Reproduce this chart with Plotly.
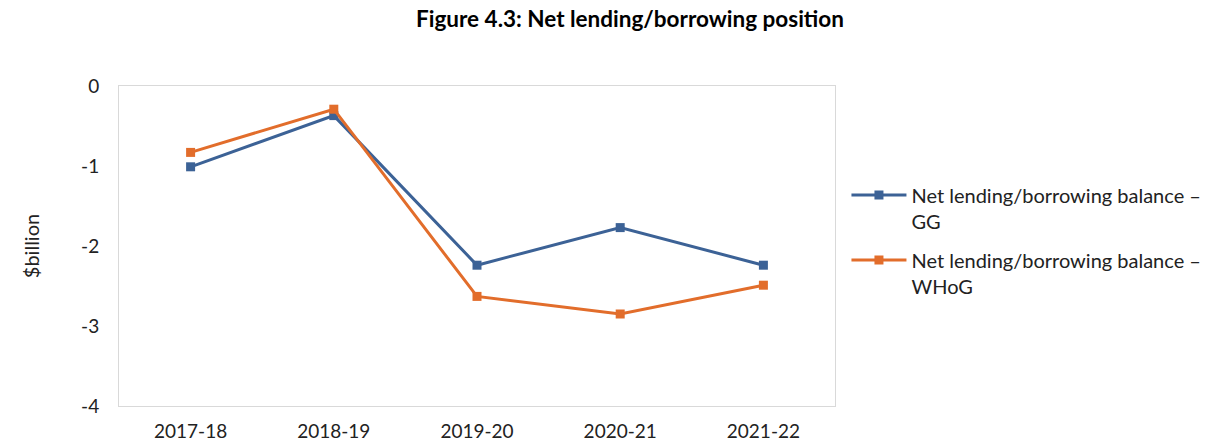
import plotly.graph_objects as go

# Fiscal years and net lending/borrowing balances ($billion)
years = ["2017-18", "2018-19", "2019-20", "2020-21", "2021-22"]
gg_balance = [-1.01, -0.37, -2.24, -1.77, -2.24]
whog_balance = [-0.83, -0.29, -2.63, -2.85, -2.49]

# Value-axis ticks, written with a plain hyphen
y_tick_values = [0, -1, -2, -3, -4]
y_tick_labels = ["0", "-1", "-2", "-3", "-4"]

series_names = [
    "Net lending/borrowing balance –<br>GG",
    "Net lending/borrowing balance –<br>WHoG",
]
series_colors = ["#3C6296", "#E26D2B"]

fig = go.Figure()
for i, (name, vals, color) in enumerate(zip(series_names, [gg_balance, whog_balance], series_colors)):
    fig.add_trace(go.Scatter(
        x=years, y=vals, name=name, mode="lines+markers",
        legendgroup=f"g{i}",
        line=dict(color=color, width=3),
        marker=dict(symbol="square", size=9, color=color),
    ))

font_family = "Lato, 'Open Sans', sans-serif"

fig.update_layout(
    width=1207, height=444,
    margin=dict(l=119, r=372, t=86, b=38, autoexpand=False),
    paper_bgcolor="white", plot_bgcolor="white",
    font=dict(family=font_family, size=19, color="#222222"),
    title=dict(
        text="<b>Figure 4.3: Net lending/borrowing position</b>",
        x=630 / 1207, xanchor="center", y=0.957, yanchor="middle",
        font=dict(size=22.5, color="#000000"),
    ),
    showlegend=True,
    legend=dict(
        x=1.016, xanchor="left", y=0.517, yanchor="middle",
        font=dict(size=20, color="#222222"),
        tracegroupgap=10, itemwidth=55, valign="top",
    ),
    xaxis=dict(
        type="category", range=[-0.5, 4.5], automargin=False,
        showgrid=False, zeroline=False,
        showline=True, linecolor="#D9D9D9", linewidth=1, mirror=True,
        ticks="", ticklabelstandoff=8,
        tickfont=dict(size=19, color="#222222"),
    ),
    yaxis=dict(
        range=[-4, 0], automargin=False,
        tickmode="array", tickvals=y_tick_values, ticktext=y_tick_labels,
        showgrid=False, zeroline=False,
        showline=True, linecolor="#D9D9D9", linewidth=1, mirror=True,
        ticks="", ticklabelstandoff=15,
        tickfont=dict(size=19, color="#222222"),
        title=dict(text="$billion", standoff=36, font=dict(size=20, color="#222222")),
    ),
)

fig.write_html("out.html")
